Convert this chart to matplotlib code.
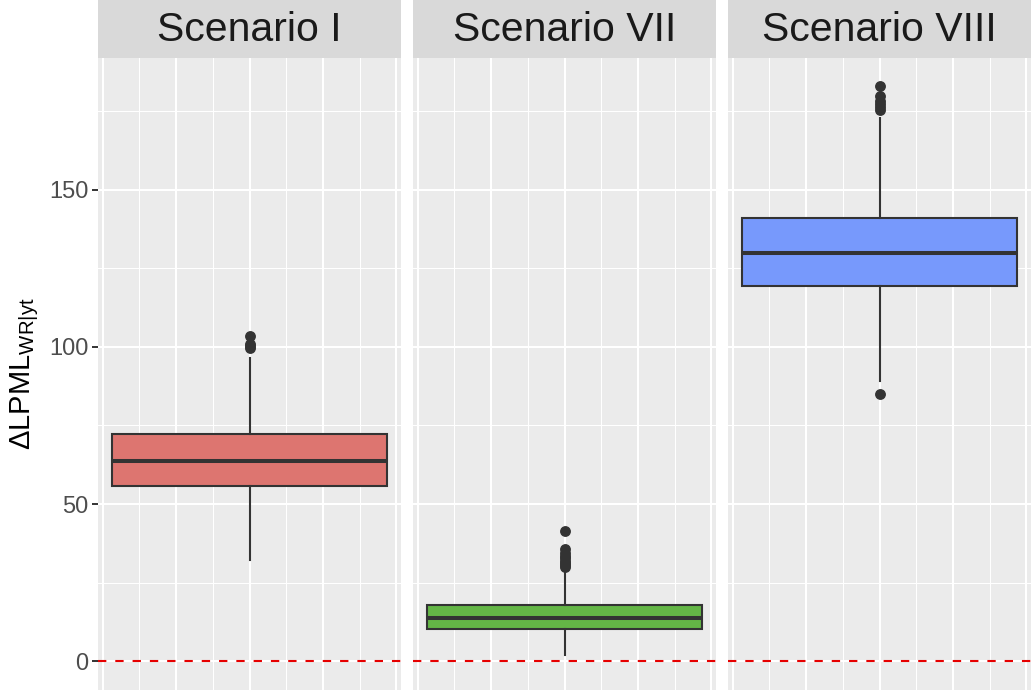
import matplotlib
matplotlib.use("Agg")
import matplotlib.pyplot as plt
from matplotlib.ticker import MultipleLocator

plt.rcParams['font.family'] = ['Liberation Sans', 'DejaVu Sans']
plt.rcParams['mathtext.fontset'] = 'custom'
plt.rcParams['mathtext.rm'] = 'Liberation Sans'
plt.rcParams['mathtext.it'] = 'Liberation Sans:italic'
plt.rcParams['mathtext.bf'] = 'Liberation Sans:bold'

# ---- data ----
scenarios = ["Scenario I", "Scenario VII", "Scenario VIII"]
whisker_low = [32.1, 2.1, 89.1]
q1 = [55.8, 10.1, 119.4]
median = [63.8, 13.8, 130.0]
q3 = [72.3, 17.9, 140.9]
whisker_high = [96.6, 28.7, 172.8]
outliers_I = [99.8, 100.2, 100.8, 103.6]
outliers_VII = [30.0, 30.6, 31.3, 32.0, 32.8, 33.6, 34.5, 35.8, 41.3]
outliers_VIII = [84.9, 175.3, 176.2, 177.3, 178.3, 179.8, 182.9]
outliers = [outliers_I, outliers_VII, outliers_VIII]
fill_colors = ["#DD7570", "#64B646", "#7799FC"]
y_ticks = [0, 50, 100, 150]

W, H = 1033, 690
fig = plt.figure(figsize=(W / 100, H / 100), dpi=100)
fig.patch.set_facecolor("white")

lefts = [98, 413, 728]
pw = 303
strip_h = 57.5
panel_h = H - strip_h

for i, name in enumerate(scenarios):
    ax = fig.add_axes([lefts[i] / W, 0, pw / W, panel_h / H])
    ax.set_facecolor("#EBEBEB")
    for s in ax.spines.values():
        s.set_visible(False)
    stats = [dict(med=median[i], q1=q1[i], q3=q3[i], whislo=whisker_low[i],
                  whishi=whisker_high[i], fliers=outliers[i], label="")]
    ax.bxp(stats, positions=[0], widths=0.75, patch_artist=True,
           showcaps=False, manage_ticks=False,
           boxprops=dict(facecolor=fill_colors[i], edgecolor="#333333", linewidth=1.5),
           whiskerprops=dict(color="#333333", linewidth=1.5),
           medianprops=dict(color="#333333", linewidth=2.9),
           flierprops=dict(marker="o", markerfacecolor="#333333",
                           markeredgecolor="#333333", markersize=6.8))
    ax.axhline(0, color="#E60000", linestyle=(0, (4.0, 4.3)), linewidth=1.5, zorder=3)
    ax.set_xlim(-0.4125, 0.4125)
    ax.set_ylim(-9.15, 192.05)
    ax.xaxis.set_major_locator(MultipleLocator(0.2))
    ax.xaxis.set_minor_locator(MultipleLocator(0.1))
    ax.yaxis.set_major_locator(plt.FixedLocator(y_ticks))
    ax.yaxis.set_minor_locator(plt.FixedLocator([25, 75, 125, 175]))
    ax.grid(which="major", color="white", linewidth=1.5)
    ax.grid(which="minor", color="white", linewidth=0.75)
    ax.set_axisbelow(True)
    ax.tick_params(axis="x", which="both", bottom=False, labelbottom=False)
    ax.tick_params(axis="y", which="minor", left=False)
    if i == 0:
        ax.tick_params(axis="y", which="major", length=4, width=1.4, color="#333333",
                       labelsize=17, labelcolor="#4D4D4D", pad=3)
        ax.set_ylabel(r"ΔLPML$_{\mathrm{WR|yt}}$", fontsize=21, color="black", labelpad=6)
    else:
        ax.tick_params(axis="y", which="major", left=False, labelleft=False)

    sax = fig.add_axes([lefts[i] / W, panel_h / H, pw / W, strip_h / H])
    sax.set_facecolor("#D9D9D9")
    for s in sax.spines.values():
        s.set_visible(False)
    sax.set_xticks([])
    sax.set_yticks([])
    sax.text(0.5, 0.47, name, ha="center", va="center", fontsize=29.5,
             color="#1A1A1A", transform=sax.transAxes)

fig.savefig("out.png", dpi=100)
